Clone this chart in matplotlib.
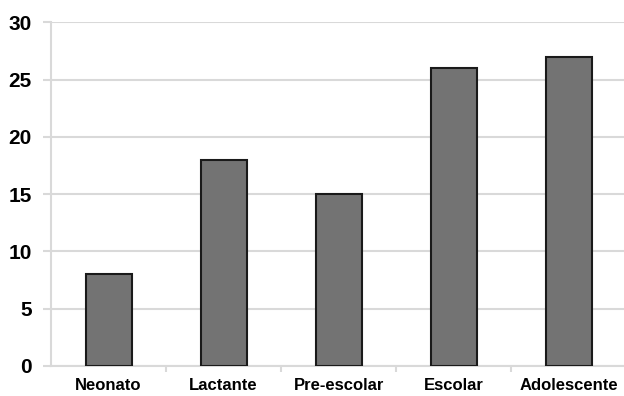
import matplotlib
matplotlib.use("Agg")
import matplotlib.pyplot as plt

# --- Data ---
categories = ["Neonato", "Lactante", "Pre-escolar", "Escolar", "Adolescente"]
values = [8, 18, 15, 26, 27]
y_ticks = [0, 5, 10, 15, 20, 25, 30]

plt.rcParams['font.family'] = ['Liberation Sans', 'DejaVu Sans']

fig = plt.figure(figsize=(6.24, 3.96), dpi=100)
ax = fig.add_axes([0.0817, 0.0758, 0.922, 0.868])

grid_col = "#d9d9d9"
ax.bar(range(len(categories)), values, width=0.4, color="#737373",
       edgecolor="#1a1a1a", linewidth=1.5, zorder=3)

ax.set_xlim(-0.5, len(categories) - 0.5)
ax.set_ylim(0, 30)
ax.set_yticks(y_ticks)
ax.set_yticklabels([str(t) for t in y_ticks], fontsize=15, fontweight='bold')
ax.set_xticks(range(len(categories)))
ax.set_xticklabels(categories, fontsize=12, fontweight='bold')
ax.set_xticks([i + 0.5 for i in range(len(categories))], minor=True)

ax.yaxis.grid(True, color=grid_col, linewidth=1.5, zorder=0)
ax.set_axisbelow(True)
for s in ["top", "right"]:
    ax.spines[s].set_visible(False)
for s in ["left", "bottom"]:
    ax.spines[s].set_color(grid_col)
    ax.spines[s].set_linewidth(1.5)

ax.tick_params(axis='y', length=6, width=1.5, color=grid_col, pad=8)
ax.tick_params(axis='x', which='major', length=0, pad=9)
ax.tick_params(axis='x', which='minor', length=4, width=1.5, color=grid_col)

fig.savefig("out.png", dpi=100)
